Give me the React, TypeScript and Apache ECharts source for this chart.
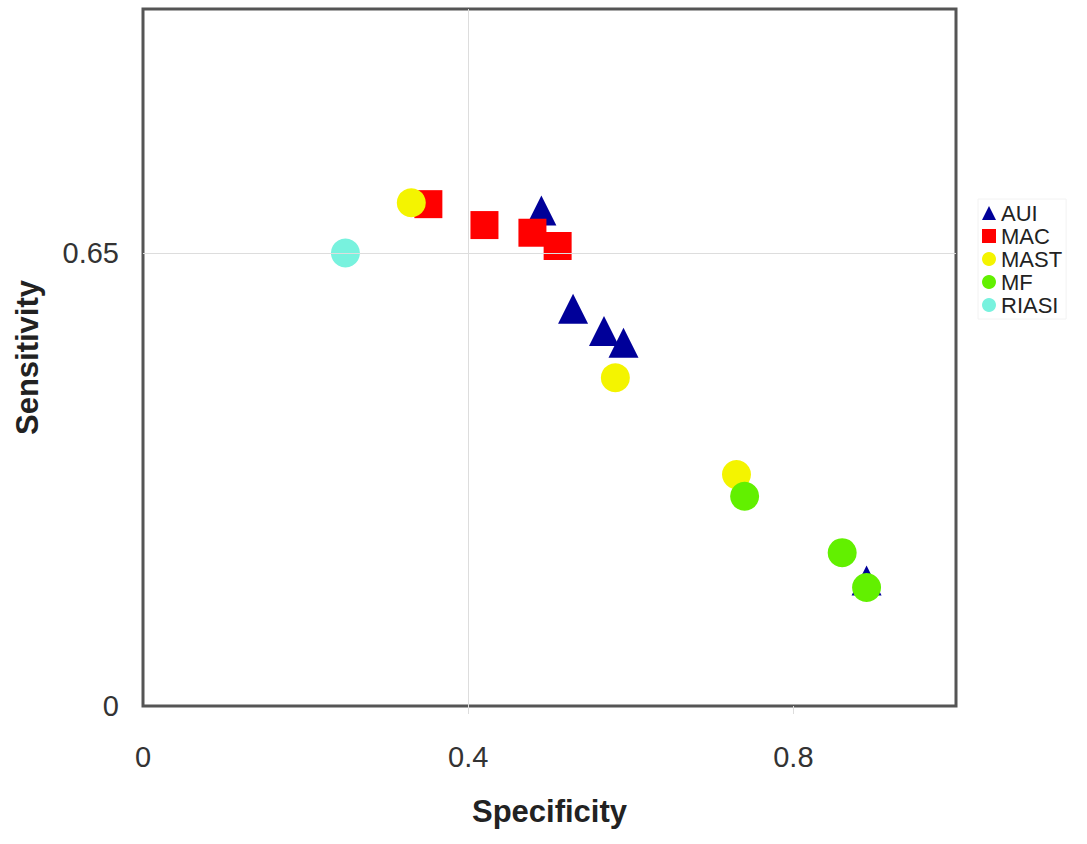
import React, { useEffect, useRef } from "react";
import * as echarts from "echarts";

const seriesNames = ["AUI", "MAC", "MAST", "MF", "RIASI"];
const seriesColors = ["#000099", "#ff0000", "#f4f400", "#62f000", "#78f2de"];
const seriesSymbols = ["triangle", "rect", "circle", "circle", "circle"];

const aui = [[0.490, 0.711], [0.529, 0.570], [0.567, 0.538], [0.591, 0.521], [0.890, 0.180]];
const mac = [[0.351, 0.720], [0.420, 0.690], [0.479, 0.679], [0.510, 0.660]];
const mast = [[0.330, 0.722], [0.581, 0.471], [0.730, 0.332]];
const mf = [[0.740, 0.301], [0.860, 0.220], [0.890, 0.170]];
const riasi = [[0.249, 0.650]];
const seriesData = [aui, mac, mast, mf, riasi];

const xTickLabels = [0, 0.4, 0.8];
const yTickLabels = [0, 0.65];
const xGrid = [0.4];
const yGrid = [0.65];

const FONT = "'Liberation Sans', Arial, Helvetica, sans-serif";

export default function App() {
  const ref = useRef<HTMLDivElement>(null);
  useEffect(() => {
    if (!ref.current) return;
    const chart = echarts.init(ref.current, null, { renderer: "svg" });
    const scatter = seriesNames.map((name, i) => ({
      name,
      type: "scatter",
      data: seriesData[i],
      symbol: seriesSymbols[i],
      symbolSize: seriesSymbols[i] === "rect" ? 28 : seriesSymbols[i] === "triangle" ? [30, 30] : 29,
      itemStyle: { color: seriesColors[i], opacity: 1 },
      z: 3,
    }));
    const gridSeries = {
      type: "scatter",
      data: [],
      silent: true,
      z: 1,
      markLine: {
        silent: true,
        symbol: "none",
        label: { show: false },
        lineStyle: { color: "#dddddd", width: 1, type: "solid" },
        data: [
          ...xGrid.map((v) => ({ xAxis: v })),
          ...yGrid.map((v) => ({ yAxis: v })),
        ],
      },
    };
    chart.setOption({
      animation: false,
      backgroundColor: "#ffffff",
      textStyle: { fontFamily: FONT },
      grid: {
        left: 143,
        top: 9,
        width: 813,
        height: 697,
        show: true,
        borderColor: "#555555",
        borderWidth: 3,
        backgroundColor: "transparent",
        containLabel: false,
      },
      legend: {
        data: seriesNames,
        orient: "vertical",
        left: 978,
        top: 199,
        itemWidth: 14,
        itemHeight: 14,
        itemGap: 1,
        padding: [3, 4, 3, 4],
        borderColor: "#f2f2f2",
        borderWidth: 1,
        textStyle: { fontFamily: FONT, fontSize: 22, color: "#222222", lineHeight: 22 },
      },
      xAxis: {
        type: "value",
        min: 0,
        max: 1,
        name: "Specificity",
        nameLocation: "middle",
        nameGap: 90,
        nameTextStyle: { fontFamily: FONT, fontSize: 31, fontWeight: "bold", color: "#222222" },
        axisLine: { show: false },
        axisTick: {
          show: true,
          customValues: [0.4, 0.8],
          length: 8,
          lineStyle: { color: "#dddddd" },
        },
        axisLabel: {
          customValues: xTickLabels,
          fontFamily: FONT,
          fontSize: 29,
          color: "#333333",
          margin: 36,
        },
        splitLine: { show: false },
      },
      yAxis: {
        type: "value",
        min: 0,
        max: 1,
        name: "Sensitivity",
        nameLocation: "middle",
        nameGap: 100,
        nameTextStyle: { fontFamily: FONT, fontSize: 31, fontWeight: "bold", color: "#222222" },
        axisLine: { show: false },
        axisTick: { show: false },
        axisLabel: {
          customValues: yTickLabels,
          fontFamily: FONT,
          fontSize: 29,
          color: "#333333",
          margin: 24,
        },
        splitLine: { show: false },
      },
      series: [gridSeries, ...scatter],
    });
    return () => chart.dispose();
  }, []);
  return (
    <div
      ref={ref}
      style={{ position: "fixed", left: 0, top: 0, width: 1087, height: 844, background: "#fff" }}
    />
  );
}
